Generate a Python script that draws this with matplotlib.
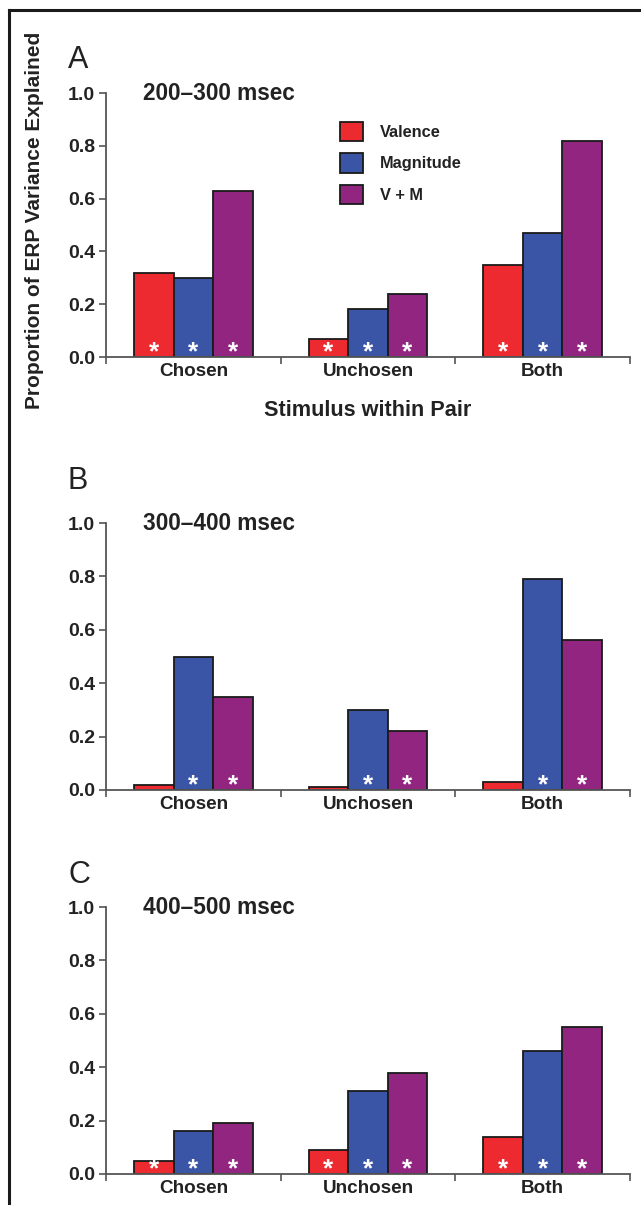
import matplotlib.pyplot as plt
import matplotlib.patches as mpatches
from matplotlib.lines import Line2D
import numpy as np

plt.rcParams['font.family'] = ['Liberation Sans', 'DejaVu Sans']

categories = ['Chosen', 'Unchosen', 'Both']
series = ['Valence', 'Magnitude', 'V + M']
colors = ['#ec2a30', '#3a55a5', '#922580']

panel_letters = ['A', 'B', 'C']
panel_titles = ['200\u2013300 msec', '300\u2013400 msec', '400\u2013500 msec']

# values per panel: rows = series (valence, magnitude, V+M), cols = categories
vals_a = [[0.32, 0.07, 0.35],
          [0.30, 0.18, 0.47],
          [0.63, 0.24, 0.82]]
vals_b = [[0.02, 0.01, 0.03],
          [0.50, 0.30, 0.79],
          [0.35, 0.22, 0.56]]
vals_c = [[0.05, 0.09, 0.14],
          [0.16, 0.31, 0.46],
          [0.19, 0.38, 0.55]]

# significance stars (1 = star drawn in bar)
stars_a = [[1, 1, 1], [1, 1, 1], [1, 1, 1]]
stars_b = [[0, 0, 0], [1, 1, 1], [1, 1, 1]]
stars_c = [[1, 1, 1], [1, 1, 1], [1, 1, 1]]

all_vals = [vals_a, vals_b, vals_c]
all_stars = [stars_a, stars_b, stars_c]

W, H = 641, 1205
fig = plt.figure(figsize=(W / 100, H / 100), dpi=100)

# pixel positions (zero line, 1.0 line) of each panel
zero_px = [357, 790, 1174]
one_px = [93, 523, 907]
letter_px = [60, 481, 875]
left_px, right_px = 106, 630

axis_col = '#555555'
bar_w = 0.226
x = np.arange(len(categories))

for k in range(3):
    bottom = 1 - zero_px[k] / H
    height = (zero_px[k] - one_px[k]) / H
    ax = fig.add_axes([left_px / W, bottom, (right_px - left_px) / W, height])
    vals = all_vals[k]
    stars = all_stars[k]
    for i in range(3):
        xs = x + (i - 1) * bar_w
        ax.bar(xs, vals[i], width=bar_w, color=colors[i], edgecolor='#1a1a1a',
               linewidth=1.3, label=series[i], zorder=2)
        for j in range(3):
            if stars[i][j]:
                ax.text(xs[j], -0.008, '*', color='white', ha='center', va='baseline',
                        fontsize=19, fontweight='bold', zorder=3)

    ax.set_xlim(-0.5, 2.5)
    ax.set_ylim(0, 1.0)
    ax.set_yticks(np.arange(0, 1.01, 0.2))
    ax.set_yticklabels([f'{v:.1f}' for v in np.arange(0, 1.01, 0.2)])
    ax.set_xticks([-0.5, 0.5, 1.5, 2.5])
    ax.set_xticklabels([])
    ax.set_xticks(x, minor=True)
    ax.set_xticklabels(categories, minor=True)
    ax.tick_params(axis='x', which='minor', length=0, pad=4, labelsize=13.6)
    ax.tick_params(axis='x', which='major', length=5, width=1.2, color=axis_col, direction='out')
    ax.tick_params(axis='y', length=5, width=1.2, color=axis_col, labelsize=14, pad=3)
    for lab in ax.get_xticklabels(minor=True) + ax.get_yticklabels():
        lab.set_fontweight('bold')
        lab.set_color('#222222')
    for s in ['top', 'right']:
        ax.spines[s].set_visible(False)
    for s in ['left', 'bottom']:
        ax.spines[s].set_color(axis_col)
        ax.spines[s].set_linewidth(1.3)
    ax.patch.set_alpha(0)

    ax.text(0.07, 1.0, panel_titles[k], transform=ax.transAxes,
            ha='left', va='center', fontsize=16.3, fontweight='bold', color='#222222')
    fig.text(68 / W, 1 - letter_px[k] / H, panel_letters[k], ha='left', va='center',
             fontsize=22, color='#222222')

    if k == 0:
        ax.set_xlabel('Stimulus within Pair', fontsize=15.6, fontweight='bold',
                      color='#222222', labelpad=15)
        handles = [mpatches.Patch(facecolor=c, edgecolor='#1a1a1a', linewidth=1.3) for c in colors]
        leg = ax.legend(handles, series, loc='upper left', bbox_to_anchor=(227 / 524, 0.915),
                        frameon=False, handlelength=1.45, handleheight=1.45,
                        labelspacing=0.72, handletextpad=1.0, borderaxespad=0,
                        prop={'weight': 'bold', 'size': 11.8})
        for t in leg.get_texts():
            t.set_color('#222222')

fig.text(35 / W, 1 - 220 / H, 'Proportion of ERP Variance Explained', rotation=90,
         ha='center', va='center', fontsize=15, fontweight='bold', color='#222222')

# frame lines along top and left edge
fig.add_artist(Line2D([9 / W, 1], [1 - 10 / H, 1 - 10 / H], color='#1a1a1a', linewidth=2.2,
                      transform=fig.transFigure))
fig.add_artist(Line2D([9 / W, 9 / W], [1 - 10 / H, 0], color='#1a1a1a', linewidth=2.2,
                      transform=fig.transFigure))

fig.savefig('out.png', dpi=100)
